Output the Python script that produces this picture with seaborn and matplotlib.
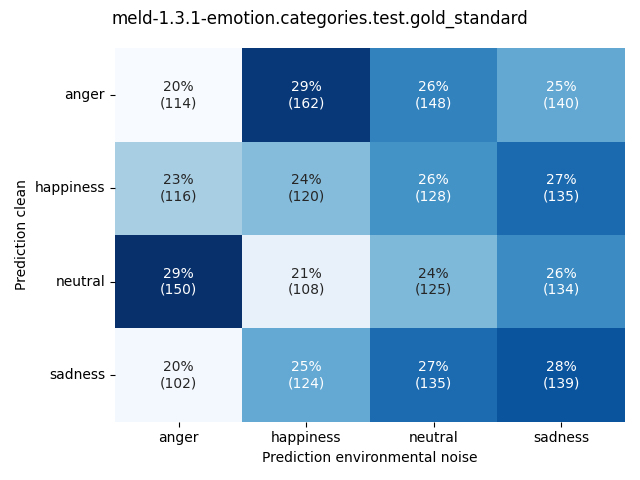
import numpy as np
import pandas as pd
import seaborn as sns
import matplotlib
matplotlib.use("Agg")
import matplotlib.pyplot as plt

rows = ["anger", "happiness", "neutral", "sadness"]
cols = ["anger", "happiness", "neutral", "sadness"]
counts = np.array([
    [114, 162, 148, 140],
    [116, 120, 128, 135],
    [150, 108, 125, 134],
    [102, 124, 135, 139],
])

pct = counts / counts.sum(axis=1, keepdims=True) * 100
labels = np.array([[f"{p:.0f}%\n({c})" for p, c in zip(pr, cr)] for pr, cr in zip(pct, counts)])

df = pd.DataFrame(pct, index=rows, columns=cols)

fig, ax = plt.subplots(figsize=(6.4, 4.8), dpi=100)
sns.heatmap(df, annot=labels, fmt="", cmap="Blues", cbar=False, ax=ax)
ax.set_xlabel("Prediction environmental noise")
ax.set_ylabel("Prediction clean")
ax.tick_params(axis="y", rotation=0)
fig.suptitle("meld-1.3.1-emotion.categories.test.gold_standard")
fig.tight_layout()
fig.savefig("out.png")
